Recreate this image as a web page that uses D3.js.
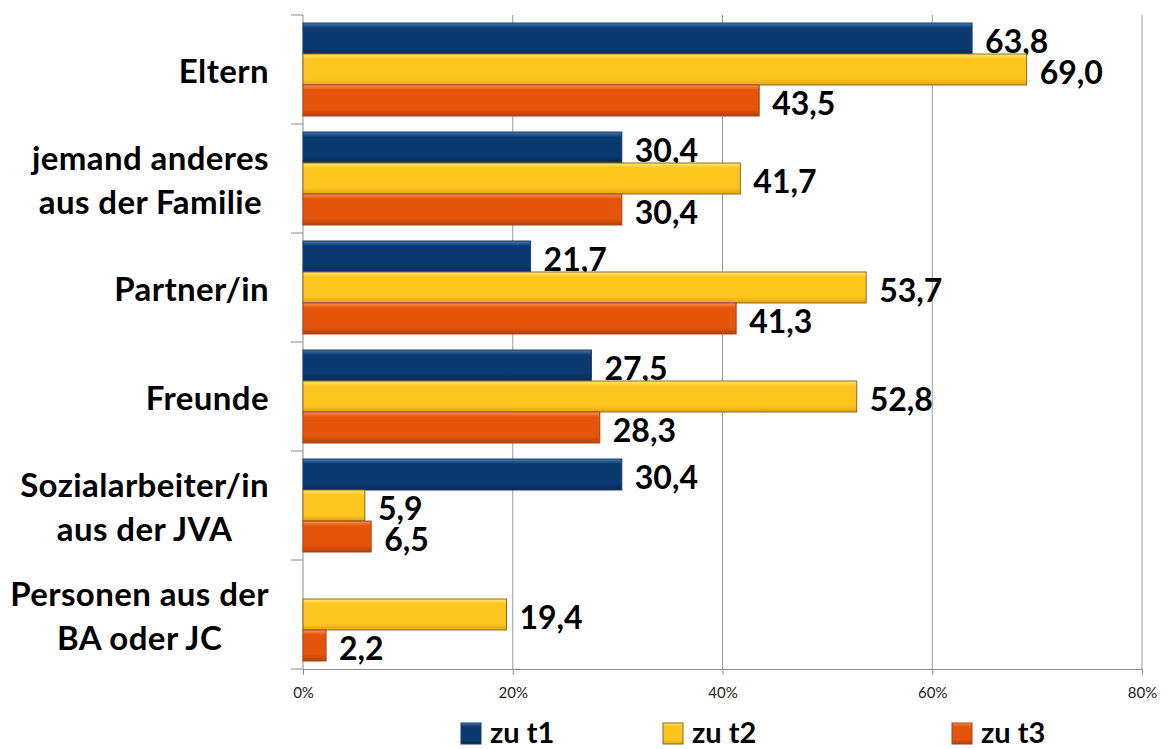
<!DOCTYPE html>
<html>
<head>
<meta charset="utf-8">
<script src="https://cdn.jsdelivr.net/npm/d3@7"></script>
<style>
  body { margin: 0; background: #fff; }
  svg { display: block; }
  .cat { font-family: "Lato", "Open Sans", sans-serif; font-weight: 700; font-size: 33px; letter-spacing: 0.4px; fill: #000; }
  .val { font-family: "Lato", "Open Sans", sans-serif; font-weight: 700; font-size: 32px; fill: #000; }
  .tick text { font-family: "Lato", "Open Sans", sans-serif; font-size: 15px; fill: #222; }
  .legend text { font-family: "Lato", "Open Sans", sans-serif; font-weight: 700; font-size: 29px; fill: #000; }
</style>
</head>
<body>
<script>
//chart data
var categories = [
    ["Eltern"],
    ["jemand anderes", "aus der Familie"],
    ["Partner/in"],
    ["Freunde"],
    ["Sozialarbeiter/in", "aus der JVA"],
    ["Personen aus der", "BA oder JC"]
];
var seriesNames = ["zu t1", "zu t2", "zu t3"];
var t1Values = [63.8, 30.4, 21.7, 27.5, 30.4, null];
var t2Values = [69.0, 41.7, 53.7, 52.8, 5.9, 19.4];
var t3Values = [43.5, 30.4, 41.3, 28.3, 6.5, 2.2];
var tickValues = [0, 20, 40, 60, 80];

var seriesValues = [t1Values, t2Values, t3Values];

//colors per series: main, highlight, dark edge
var colors = [
    {main: "#0b3a70", light: "#4479b4", dark: "#072850", stroke: "#1c3d66"},
    {main: "#ffc51f", light: "#ffec70", dark: "#e3a510", stroke: "#8a6a22"},
    {main: "#e4540a", light: "#ff944d", dark: "#b5400a", stroke: "#a5451a"}
];

var width = 1168, height = 749;

var svg = d3.select("body").append("svg")
    .attr("width", width)
    .attr("height", height);

//gradients for the bevel look
var defs = svg.append("defs");
colors.forEach(function(c, i){
    var g = defs.append("linearGradient")
        .attr("id", "grad" + i)
        .attr("x1", 0).attr("y1", 0).attr("x2", 0).attr("y2", 1);
    g.append("stop").attr("offset", "0%").attr("stop-color", c.light);
    g.append("stop").attr("offset", "16%").attr("stop-color", c.main);
    g.append("stop").attr("offset", "80%").attr("stop-color", c.main);
    g.append("stop").attr("offset", "100%").attr("stop-color", c.dark);
});

//scales
var x = d3.scaleLinear()
    .domain([0, 80])
    .range([303, 1142]);

var y = d3.scaleBand()
    .domain(d3.range(categories.length))
    .range([15, 669])
    .paddingInner(0.147)
    .paddingOuter(0.0735);

var ySub = d3.scaleBand()
    .domain(d3.range(seriesNames.length))
    .range([0, y.bandwidth()]);

//gridlines
svg.append("g")
    .selectAll("line")
    .data(tickValues.slice(1))
    .enter()
    .append("line")
    .attr("x1", function(d){ return x(d); })
    .attr("x2", function(d){ return x(d); })
    .attr("y1", 15)
    .attr("y2", 669)
    .attr("stroke", "#9a9a9a")
    .attr("stroke-width", 1);

//x axis
var xAxis = svg.append("g")
    .attr("transform", "translate(0,669)")
    .call(d3.axisBottom(x)
        .tickValues(tickValues)
        .tickSize(6)
        .tickPadding(12)
        .tickFormat(function(d){ return d + "%"; }));
xAxis.select(".domain").attr("stroke", "#8c8c8c");
xAxis.selectAll(".tick line").attr("stroke", "#8c8c8c");

//y axis line with category ticks
var catEdges = d3.range(categories.length + 1).map(function(i){
    return 15 + i * y.step();
});
svg.append("line")
    .attr("x1", 303).attr("x2", 303)
    .attr("y1", 15).attr("y2", 669)
    .attr("stroke", "#8c8c8c");
svg.append("g")
    .selectAll("line")
    .data(catEdges)
    .enter()
    .append("line")
    .attr("x1", 291).attr("x2", 303)
    .attr("y1", function(d){ return d; })
    .attr("y2", function(d){ return d; })
    .attr("stroke", "#8c8c8c");

//bars
var groups = svg.selectAll(".grp")
    .data(categories)
    .enter()
    .append("g")
    .attr("class", "grp")
    .attr("transform", function(d, i){ return "translate(0," + y(i) + ")"; });

seriesValues.forEach(function(vals, s){
    groups.filter(function(d, i){ return vals[i] != null; })
        .append("rect")
        .attr("x", x(0))
        .attr("y", ySub(s))
        .attr("width", function(d){ return x(vals[categories.indexOf(d)]) - x(0); })
        .attr("height", ySub.bandwidth())
        .attr("fill", "url(#grad" + s + ")")
        .attr("stroke", colors[s].stroke)
        .attr("stroke-width", 1);

    groups.filter(function(d, i){ return vals[i] != null; })
        .append("text")
        .attr("class", "val")
        .attr("x", function(d){ return x(vals[categories.indexOf(d)]) + 13; })
        .attr("y", ySub(s) + ySub.bandwidth() / 2 + 2)
        .attr("dominant-baseline", "central")
        .text(function(d){ return d3.format(".1f")(vals[categories.indexOf(d)]).replace(".", ","); });
});

//category labels, right aligned block with centered lines
var labelRight = 269;
categories.forEach(function(lines, i){
    var g = svg.append("g");
    var texts = lines.map(function(line){
        return g.append("text").attr("class", "cat").text(line);
    });
    var maxW = d3.max(texts, function(t){ return t.node().getComputedTextLength(); });
    var cx = labelRight - maxW / 2;
    var lineH = 44;
    var cy = y(i) + y.bandwidth() / 2;
    texts.forEach(function(t, k){
        t.attr("x", cx)
            .attr("text-anchor", "middle")
            .attr("dominant-baseline", "central")
            .attr("y", cy + (k - (lines.length - 1) / 2) * lineH);
    });
});

//legend
var legendX = [461, 663, 952];
var legend = svg.append("g").attr("class", "legend");
seriesNames.forEach(function(name, s){
    legend.append("rect")
        .attr("x", legendX[s])
        .attr("y", 723)
        .attr("width", 20)
        .attr("height", 21)
        .attr("fill", "url(#grad" + s + ")")
        .attr("stroke", colors[s].stroke);
    legend.append("text")
        .attr("x", legendX[s] + 29)
        .attr("y", 743)
        .text(name);
});
</script>
</body>
</html>
